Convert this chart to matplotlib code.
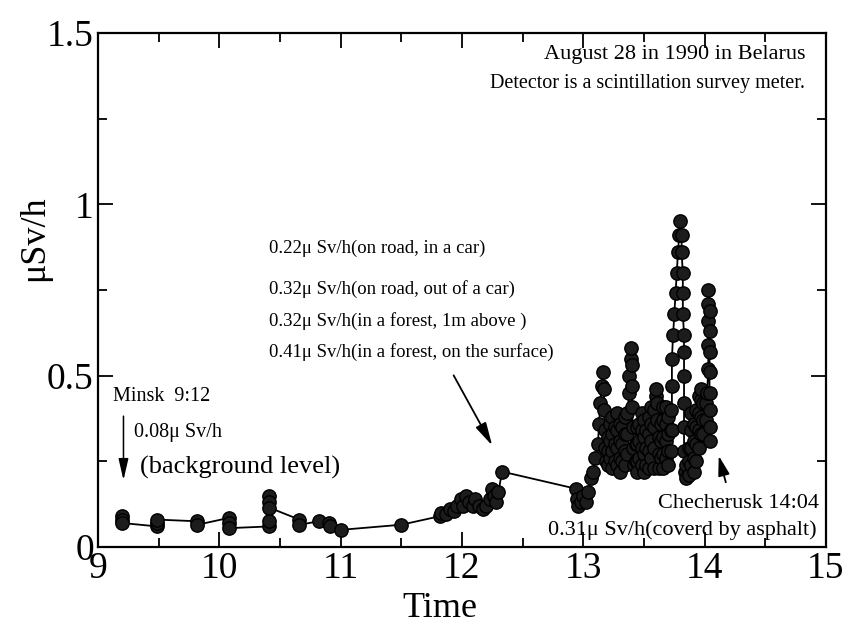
import matplotlib
matplotlib.use("Agg")
import matplotlib.pyplot as plt
import numpy as np

plt.rcParams['font.family'] = ['Liberation Serif', 'DejaVu Serif']

# ---- data (hours, uSv/h) ----
t_minsk = [9.2, 9.2, 9.2, 9.49, 9.49, 9.49, 9.82, 9.82, 10.08, 10.08, 10.08,
           10.41, 10.41, 10.41, 10.41, 10.41, 10.66, 10.66, 10.82, 10.9, 10.91,
           11.0, 11.5]
v_minsk = [0.09, 0.08, 0.07, 0.06, 0.07, 0.08, 0.075, 0.065, 0.085, 0.07, 0.055,
           0.06, 0.075, 0.15, 0.13, 0.115, 0.08, 0.065, 0.075, 0.07, 0.06,
           0.05, 0.065]

t_forest = [11.82, 11.83, 11.87, 11.9, 11.93, 11.96, 11.99, 12.01, 12.03, 12.06,
            12.09, 12.11, 12.14, 12.17, 12.2, 12.23, 12.25, 12.26, 12.28, 12.3,
            12.33]
v_forest = [0.09, 0.10, 0.095, 0.11, 0.105, 0.12, 0.14, 0.12, 0.15, 0.13,
            0.12, 0.14, 0.12, 0.11, 0.12, 0.14, 0.17, 0.15, 0.13, 0.16,
            0.22]

t_road = [12.94, 12.95, 12.96, 12.98, 13.0, 13.02, 13.04, 13.06, 13.08, 13.1]
v_road = [0.17, 0.14, 0.12, 0.13, 0.15, 0.13, 0.16, 0.2, 0.22, 0.26]

# first peak near 13:09 and dense part up to the 13:24 peak
t_zone_a = [13.12, 13.13, 13.14, 13.15, 13.16, 13.17, 13.17, 13.18, 13.18, 13.19,
            13.20, 13.20, 13.20, 13.22, 13.22, 13.22,
            13.24, 13.24, 13.24, 13.24, 13.26, 13.26, 13.26,
            13.28, 13.28, 13.28, 13.28, 13.30, 13.30, 13.30, 13.30,
            13.32, 13.32, 13.32, 13.34, 13.34, 13.34, 13.34,
            13.36, 13.36, 13.36,
            13.38, 13.38, 13.39, 13.39, 13.40, 13.40, 13.40, 13.41, 13.41, 13.42]
v_zone_a = [0.30, 0.36, 0.42, 0.47, 0.51, 0.46, 0.40, 0.34, 0.29, 0.25,
            0.24, 0.28, 0.32, 0.36, 0.31, 0.26,
            0.23, 0.28, 0.33, 0.38, 0.35, 0.30, 0.25,
            0.24, 0.29, 0.34, 0.39, 0.36, 0.31, 0.26, 0.22,
            0.25, 0.30, 0.35, 0.38, 0.33, 0.28, 0.24,
            0.27, 0.33, 0.39,
            0.45, 0.50, 0.55, 0.58, 0.53, 0.47, 0.41, 0.35, 0.29, 0.24]

# dense part between the 13:24 and 13:48 peaks
t_zone_b = [13.43, 13.43, 13.44, 13.44, 13.44, 13.44,
            13.46, 13.46, 13.46, 13.48, 13.48, 13.48, 13.48,
            13.50, 13.50, 13.50, 13.50, 13.52, 13.52, 13.52,
            13.54, 13.54, 13.54, 13.54, 13.56, 13.56, 13.56, 13.56,
            13.58, 13.58, 13.58, 13.58, 13.60, 13.60, 13.61, 13.61,
            13.62, 13.62, 13.62, 13.64, 13.64, 13.64,
            13.66, 13.66, 13.66, 13.66, 13.66, 13.68, 13.68, 13.68, 13.68,
            13.70, 13.70, 13.70, 13.70, 13.72, 13.72, 13.72]
v_zone_b = [0.25, 0.30, 0.35, 0.30, 0.25, 0.22,
            0.26, 0.31, 0.36, 0.39, 0.34, 0.29, 0.24,
            0.22, 0.27, 0.32, 0.37, 0.34, 0.29, 0.24,
            0.23, 0.28, 0.33, 0.38, 0.41, 0.36, 0.31, 0.26,
            0.23, 0.29, 0.35, 0.40, 0.44, 0.46, 0.42, 0.37,
            0.32, 0.27, 0.23, 0.26, 0.31, 0.36,
            0.41, 0.37, 0.32, 0.27, 0.23, 0.26, 0.31, 0.36, 0.41,
            0.38, 0.33, 0.28, 0.24, 0.28, 0.34, 0.40]

# main peak near 13:48
t_peak = [13.73, 13.73, 13.73, 13.74, 13.75, 13.76, 13.77, 13.78, 13.79, 13.80,
          13.81, 13.81, 13.82, 13.82, 13.82, 13.83, 13.83, 13.83, 13.83, 13.83,
          13.83, 13.84]
v_peak = [0.34, 0.47, 0.55, 0.62, 0.68, 0.74, 0.80, 0.86, 0.91, 0.95,
          0.91, 0.86, 0.80, 0.74, 0.68, 0.62, 0.57, 0.50, 0.42, 0.35,
          0.28, 0.22]

# last cluster before Checherusk
t_end = [13.85, 13.85, 13.87, 13.87, 13.87, 13.89, 13.89, 13.89, 13.89,
         13.91, 13.91, 13.91, 13.91, 13.93, 13.93, 13.93, 13.93,
         13.95, 13.95, 13.95, 13.95, 13.97, 13.97, 13.97, 13.97,
         13.99, 13.99, 13.99, 14.01, 14.01,
         14.02, 14.03, 14.03, 14.03, 14.03, 14.03, 14.04, 14.04, 14.04, 14.04,
         14.04, 14.04, 14.04, 14.04]
v_end = [0.20, 0.24, 0.29, 0.25, 0.21, 0.24, 0.29, 0.34, 0.39,
         0.36, 0.31, 0.26, 0.22, 0.25, 0.30, 0.35, 0.40,
         0.44, 0.39, 0.34, 0.29, 0.33, 0.38, 0.43, 0.46,
         0.42, 0.37, 0.33, 0.37, 0.42,
         0.45, 0.52, 0.59, 0.66, 0.71, 0.75, 0.69, 0.63, 0.57, 0.51,
         0.45, 0.40, 0.35, 0.31]

x_ticks = [9, 10, 11, 12, 13, 14, 15]
x_tick_labels = ['9', '10', '11', '12', '13', '14', '15']
y_ticks = [0, 0.5, 1, 1.5]
y_tick_labels = ['0', '0.5', '1', '1.5']

t_all = t_minsk + t_forest + t_road + t_zone_a + t_zone_b + t_peak + t_end
v_all = v_minsk + v_forest + v_road + v_zone_a + v_zone_b + v_peak + v_end

# ---- figure ----
fig = plt.figure(figsize=(8.5, 6.3), dpi=100)
ax = fig.add_axes([98/850, 1-547/630, (826-98)/850, (547-33)/630])

ax.plot(t_all, v_all, color='black', lw=1.3, marker='o', ms=9.6,
        mfc='#1c1c1c', mec='black', mew=1.0, zorder=3)

ax.set_xlim(9, 15)
ax.set_ylim(0, 1.5)
ax.set_xticks(x_ticks)
ax.set_xticklabels(x_tick_labels)
ax.set_yticks(y_ticks)
ax.set_yticklabels(y_tick_labels)
ax.set_xticks(np.arange(9.5, 15, 1.0), minor=True)
ax.set_yticks([0.25, 0.75, 1.25], minor=True)
ax.tick_params(which='both', direction='in', top=True, right=True, width=1.3)
ax.tick_params(which='major', length=11, labelsize=27, pad=3)
ax.tick_params(which='minor', length=6.5)
for s in ax.spines.values():
    s.set_linewidth(1.6)

ax.set_xlabel('Time', fontsize=26)
ax.xaxis.set_label_coords(0.47, -0.088)
ax.set_ylabel('μSv/h', fontsize=26)
ax.yaxis.set_label_coords(-0.065, 0.60)

# ---- annotations ----
ax.text(14.83, 1.436, 'August 28 in 1990 in Belarus', fontsize=16,
        ha='right', va='center')
ax.text(14.83, 1.354, 'Detector is a scintillation survey meter.', fontsize=14.5,
        ha='right', va='center')

mid_lines = ['0.22μ Sv/h(on road, in a car)',
             '0.32μ Sv/h(on road, out of a car)',
             '0.32μ Sv/h(in a forest, 1m above )',
             '0.41μ Sv/h(in a forest, on the surface)']
mid_y = [0.872, 0.753, 0.66, 0.569]
for s, yy in zip(mid_lines, mid_y):
    ax.text(10.41, yy, s, fontsize=13.5, ha='left', va='center')

ax.annotate('', xy=(12.26, 0.289), xytext=(11.92, 0.508),
            arrowprops=dict(arrowstyle='-|>,head_length=1.4,head_width=0.35',
                            color='black', lw=1.3))

ax.text(9.12, 0.438, 'Minsk  9:12', fontsize=14.5, ha='left', va='center')
ax.text(9.3, 0.333, '0.08μ Sv/h', fontsize=14.5, ha='left', va='center')
ax.text(9.35, 0.233, '(background level)', fontsize=19, ha='left', va='center')
ax.annotate('', xy=(9.21, 0.187), xytext=(9.21, 0.39),
            arrowprops=dict(arrowstyle='-|>,head_length=1.3,head_width=0.3',
                            color='black', lw=1.1))

ax.text(14.94, 0.128, 'Checherusk 14:04', fontsize=16, ha='right', va='center')
ax.text(14.92, 0.05, '0.31μ Sv/h(coverd by asphalt)', fontsize=16,
        ha='right', va='center')
ax.annotate('', xy=(14.11, 0.274), xytext=(14.18, 0.181),
            arrowprops=dict(arrowstyle='-|>,head_length=1.2,head_width=0.35',
                            color='black', lw=1.3))

fig.savefig('out.png', dpi=100)
